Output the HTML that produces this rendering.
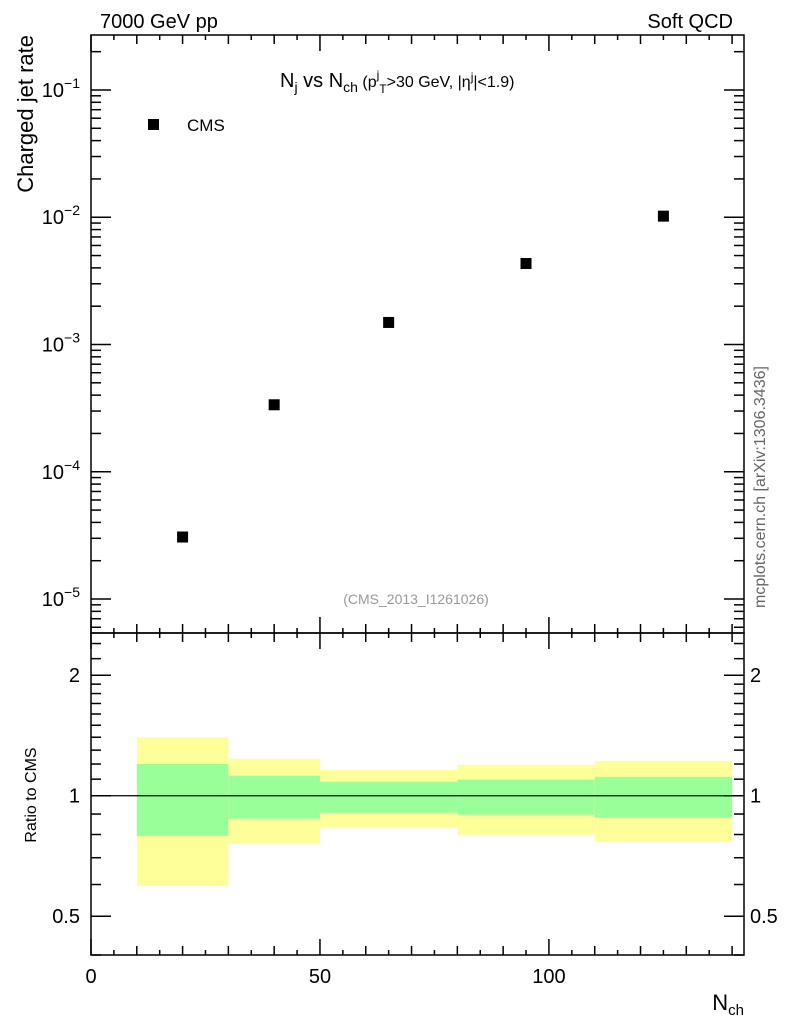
<!DOCTYPE html>
<html><head><meta charset="utf-8"><style>
body{margin:0;background:#fff;}
svg{display:block;font-family:"Liberation Sans",sans-serif;}
</style></head><body>
<svg id="c" width="786" height="1024" xmlns="http://www.w3.org/2000/svg"></svg>
<script>
const categories=[20,40,65,95,125];
const rates=[3.07e-5,3.36e-4,1.49e-3,4.33e-3,1.02e-2];
const binLo=[10,30,50,80,110];
const binHi=[30,50,80,110,140];
const yellowHi=[1.40,1.237,1.161,1.195,1.223];
const yellowLo=[0.596,0.759,0.832,0.799,0.768];
const greenHi=[1.20,1.122,1.084,1.097,1.115];
const greenLo=[0.794,0.876,0.907,0.897,0.881];
const xTicks=[0,50,100];
const yExps=[-1,-2,-3,-4,-5];
const rTicks=[2,1,0.5];

const NS="http://www.w3.org/2000/svg";
const svg=document.getElementById('c');
const L=91,R=744,T=35,M=633,B=955;
const X0=0,X1=142.6;
const sx=v=>L+(v-X0)/(X1-X0)*(R-L);
const yTop=-0.568,yBot=-5.267;
const sy=v=>T+(yTop-Math.log10(v))/(yTop-yBot)*(M-T);
const rTop=Math.log2(2.55),rBot=Math.log2(0.40);
const sr=v=>M+(rTop-Math.log2(v))/(rTop-rBot)*(B-M);
function el(tag,a,p){const e=document.createElementNS(NS,tag);for(const k in a)e.setAttribute(k,a[k]);(p||svg).appendChild(e);return e;}
function line(x1,y1,x2,y2,name){const e=el('line',{x1,y1,x2,y2,stroke:'#000','stroke-width':1.5});

return e;}
function text(x,y,s,size,anchor,name,fill){const e=el('text',{x,y,'font-size':size,'text-anchor':anchor||'start',fill:fill||'#000'});e.textContent=s;

return e;}

// bands
for(let i=0;i<binLo.length;i++){
 const y=el('rect',{x:sx(binLo[i]),y:sr(yellowHi[i]),width:sx(binHi[i])-sx(binLo[i]),height:sr(yellowLo[i])-sr(yellowHi[i]),fill:'#ffff99'});
 
 
 const g=el('rect',{x:sx(binLo[i]),y:sr(greenHi[i]),width:sx(binHi[i])-sx(binLo[i]),height:sr(greenLo[i])-sr(greenHi[i]),fill:'#99ff99'});
 
 
}
line(L,sr(1),R,sr(1),'ratio-one-line').setAttribute('stroke-width',1.2);

// frames
const f1=el('rect',{x:L,y:T,width:R-L,height:M-T,fill:'none',stroke:'#000','stroke-width':1.5});


const f2=el('rect',{x:L,y:M,width:R-L,height:B-M,fill:'none',stroke:'#000','stroke-width':1.5});



// x ticks
for(let v=0;v<=140;v+=5){
 const len=v%50===0?16:(v%10===0?9:5);
 const x=sx(v);
 line(x,M,x,M-len,'x-tick');line(x,T,x,T+len,'x-tick');
 line(x,B,x,B-len,'x-tick');line(x,M,x,M+len,'x-tick');
}
xTicks.forEach(v=>text(sx(v),983,String(v),20,'middle','x-tick-label'));
const xt=text(R,1010,'N',22,'end','x-axis-title');
xt.textContent='';
const t1=el('tspan',{},xt);t1.textContent='N';
const t2=el('tspan',{'font-size':15,dy:5},xt);t2.textContent='ch';

// y ticks main
for(let e=-6;e<=0;e++){
 for(let m=1;m<10;m++){
  const v=m*Math.pow(10,e);const y=sy(v);
  if(y<T||y>M)continue;
  const len=m===1?20:10;
  line(L,y,L+len,y,'y-tick');line(R,y,R-len,y,'y-tick');
 }
}
yExps.forEach(e=>{
 const t=text(80,sy(Math.pow(10,e))+7,'',20,'end','y-tick-label');
 const a=el('tspan',{},t);a.textContent='10';
 const b=el('tspan',{'font-size':14,dy:-9},t);b.textContent='−'+(-e);
});
const yt=text(0,0,'Charged jet rate',22,'end','y-axis-title');
yt.setAttribute('transform','translate(33,35) rotate(-90)');

// ratio ticks
const rt=[0.4,0.5,0.6,0.7,0.8,0.9,1,1.1,1.2,1.3,1.4,1.5,1.6,1.7,1.8,1.9,2,2.2,2.4];
rt.forEach(v=>{const y=sr(v);const len=(v===0.5||v===1||v===2)?20:10;
 line(L,y,L+len,y,'ratio-tick');line(R,y,R-len,y,'ratio-tick');});
rTicks.forEach(v=>{const y=sr(v)+7;
 text(80,y,String(v),20,'end','ratio-tick-label-left');
 text(750,y,String(v),20,'start','ratio-tick-label-right');});
const ryt=text(0,0,'Ratio to CMS',16,'middle','ratio-axis-title');
ryt.setAttribute('transform','translate(36,795) rotate(-90)');

// points
categories.forEach((c,i)=>{
 const r=el('rect',{x:sx(c)-5.5,y:sy(rates[i])-5.5,width:11,height:11,fill:'#000'});
 
 
});

// labels
text(100,28,'7000 GeV pp',20,'start','energy-label');
text(733,28,'Soft QCD',20,'end','process-label');
const lg=el('rect',{x:148,y:119,width:11,height:11,fill:'#000'});


text(187,131,'CMS',17,'start','legend-label');
text(416,604,'(CMS_2013_I1261026)',14,'middle','analysis-id','#999');
const side=text(0,0,'mcplots.cern.ch [arXiv:1306.3436]',16,'middle','watermark','#666');
side.setAttribute('transform','translate(765,487) rotate(-90)');

// title
const tt=text(280,87,'',20,'start','plot-title');
const parts=[['N',20,0],['j',14,5],[' vs N',20,-5],['ch',14,5],[' (p',16,-5],['j',12,-8],['T',12,14],['>30 GeV, |η',16,-6],['j',12,-6],['|<1.9)',16,6]];
parts.forEach(p=>{const s=el('tspan',{'font-size':p[1],dy:p[2]},tt);s.textContent=p[0];});
</script>
</body></html>
